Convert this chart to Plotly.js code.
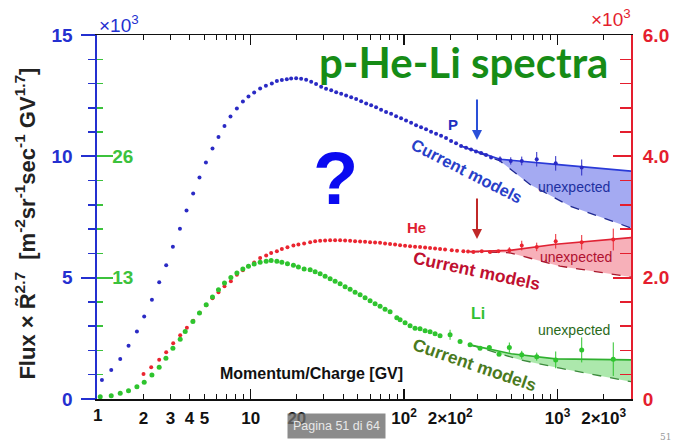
<!DOCTYPE html>
<html><head><meta charset="utf-8">
<script src="https://cdn.plot.ly/plotly-3.0.1.min.js"></script>
<style>html,body{margin:0;padding:0;background:#fff;}#chart{width:679px;height:443px;}</style>
</head><body><div id="chart"></div>
<script>
// ---- Proton (P) flux x R^2.7, units x10^3 (left axis)
const pR = [1.073,1.234,1.412,1.60,1.814,2.023,2.272,2.535,2.815,3.112,3.46,3.82,4.22,4.64,5.11,5.64,6.17,6.75,7.39,8.13,8.90,9.68,10.54,11.53,12.57,13.74,14.82,15.97,17.2,
  18.36,19.79,21.33,23.0,24.8,26.7,28.8,31.0,33.5,36.1,38.9,41.9,45.2,48.7,52.5,56.6,61.0,65.7,70.8,76.3,82.3,88.7,95.6,103.0,111.1,119.7,129.0,139.1,149.9,161.6,174.2,187.7,202.4,218.2,235.1,253.5,273.3,294.4,317.5,342.2,368.9];
const pFlux = [0.785,1.198,1.653,2.19,2.78,3.40,4.09,4.81,5.51,6.27,7.02,7.77,8.47,9.13,9.75,10.32,10.80,11.25,11.64,11.97,12.26,12.47,12.63,12.80,12.91,13.00,13.10,13.15,13.18,
  13.21,13.22,13.20,13.16,13.07,12.98,12.87,12.79,12.72,12.64,12.58,12.51,12.43,12.36,12.27,12.18,12.10,12.02,11.92,11.83,11.75,11.65,11.57,11.48,11.38,11.28,11.20,11.12,11.01,10.93,10.85,10.76,10.63,10.54,10.43,10.35,10.28,10.20,10.14,10.06,9.95];
const pTailR = [422.1,495.7,584.7,732,973,1438];
const pTail = [9.88,9.81,9.81,9.88,9.71,9.54];
const pTailErr = [0.12,0.15,0.18,0.3,0.3,0.33];
const pFitR = [235,422,973,3013];
const pFit = [10.43,9.88,9.67,9.39];
const pModelR = [235,422,662,1206,3013];
const pModel = [10.43,9.81,8.84,7.95,7.05];

// ---- Helium (He), units x10^3 (right axis)
const heR = [2.003,2.248,2.534,2.815,3.127,3.473,3.840,4.221,4.654,5.131,5.638,6.169,6.752,7.430,8.132,8.897,9.676,10.54,11.53,12.62,13.60,14.82,15.97,17.37,19.00,20.48,22.31,24.42,26.32,28.37,30.57,32.96,35.52,38.29,41.27,44.48,47.94,51.68,55.69,60.03,64.71,69.75,75.18,81.04,87.36,94.17,101.5,109.4,117.9,127.1,137.1,147.7,159.2,171.6,185.0,204.5,221.4,243.4,261.2,282.8,320.8,363.4,411.7];
const heFlux = [0.413,0.524,0.645,0.772,0.921,1.050,1.174,1.289,1.421,1.545,1.661,1.760,1.860,1.942,2.050,2.124,2.190,2.248,2.326,2.364,2.408,2.435,2.474,2.501,2.529,2.545,2.562,2.583,2.600,2.607,2.612,2.617,2.617,2.617,2.612,2.607,2.602,2.595,2.590,2.583,2.579,2.574,2.565,2.557,2.545,2.533,2.526,2.517,2.509,2.504,2.496,2.488,2.479,2.471,2.463,2.451,2.443,2.435,2.430,2.424,2.435,2.424,2.435];
const heTailR = [485.3,584.7,732.0,973.4,1438,2309];
const heTail = [2.451,2.529,2.507,2.600,2.583,2.628];
const heTailErr = [0.05,0.08,0.07,0.12,0.12,0.18];
const heFitR = [269,490,973,3013];
const heFit = [2.43,2.45,2.55,2.66];
const heModelR = [269,489,1038,3013];
const heModel = [2.43,2.41,2.19,2.01];

// ---- Lithium (Li), inner left axis (13, 26)
const liR = [1.046,1.234,1.412,1.599,1.814,2.024,2.272,2.534,2.803,3.113,3.473,3.744,4.202,4.638,5.131,5.638,6.169,6.752,7.430,8.132,8.897,9.676,10.54,11.53,12.62,13.60,14.82,15.97,17.37,19.00,20.48,22.31,24.42,26.32,28.37,30.57,32.96,35.52,38.29,41.27,44.48,47.94,51.68,55.69,60.03,64.71,69.75,75.18,81.04,89.65,94.17,101.5,109.4,117.9,127.1,137.1,147.7,159.2,171.6,231.7,269.2,312.7,359.5,415.9];
const liFlux = [0.247,0.355,0.612,0.892,1.321,1.794,2.578,3.406,4.373,5.447,6.414,7.230,8.305,9.207,10.10,10.93,11.71,12.43,13.03,13.50,13.93,14.21,14.47,14.64,14.75,14.83,14.75,14.64,14.50,14.32,14.15,13.93,13.86,13.64,13.43,13.16,12.89,12.62,12.35,12.03,11.76,11.44,11.17,10.85,10.53,10.21,9.94,9.62,9.35,8.70,8.49,8.17,7.84,7.57,7.52,7.31,7.20,6.98,6.77,6.16,5.80,5.45,5.51,4.80];
const liTailR = [199.4,485.3,584.7,732.0,973.4,1438,2309];
const liTail = [6.88,5.51,4.73,4.54,4.19,5.26,4.27];
const liTailErr = [0.54,0.54,0.43,0.43,0.9,1.34,1.8];
const liFitR = [269,500,973,3013];
const liFit = [5.80,4.85,4.30,4.19];
const liModelR = [269,575,1038,3013];
const liModel = [5.80,4.19,3.30,1.86];

// ---- axis ticks
const xTickVals = [1,2,3,4,5,6,7,8,9,10,20,30,40,50,60,70,80,90,100,200,300,400,500,600,700,800,900,1000,2000,3000];
const xTickText = ['1','2','3','4','5','','','','','10','20','','','','','','','','10<sup>2</sup>','2×10<sup>2</sup>','','','','','','','','10<sup>3</sup>','2×10<sup>3</sup>',''];
const xMajor = [1,10,100,1000];
const pTicks = [0,5,10,15];
const heTicks = [0,2,4,6];
const heTickText = ['0','2.0','4.0','6.0'];
const liTicks = [13,26];

const F = 'Liberation Sans, Arial, sans-serif';
const BLUE = '#2430d0', RED = '#e41e2e', GREEN = '#3cc23c';
const XR = [-0.0015,3.479];

function pts(x,y,yaxis,color,size,err){
  const t = {x:x,y:y,yaxis:yaxis,type:'scatter',mode:'markers',marker:{color:color,size:size},hoverinfo:'skip',showlegend:false,cliponaxis:false};
  if(err) t.error_y = {type:'data',array:err,visible:true,color:color,thickness:1,width:0};
  return t;
}
function line(x,y,yaxis,color,dash,fill,fillcolor,w){
  const t = {x:x,y:y,yaxis:yaxis,type:'scatter',mode:'lines',line:{color:color,width:w||1.3,dash:dash||'solid'},hoverinfo:'skip',showlegend:false};
  if(fill){t.fill=fill;t.fillcolor=fillcolor;}
  return t;
}

const data = [
  {x:[],y:[],xaxis:'x2',yaxis:'y',type:'scatter',mode:'markers',showlegend:false,hoverinfo:'skip'},
  line(pModelR,pModel,'y','#1e2890','dash'),
  line(pFitR,pFit,'y','#2a3ad8','solid','tonexty','rgba(90,100,232,0.55)',1.6),
  pts(pR,pFlux,'y','#2a2ac4',4),
  pts(pTailR,pTail,'y','#2a2ac4',4,pTailErr),
  line(heModelR,heModel,'y2','#a8182c','dash'),
  line(heFitR,heFit,'y2','#e02234','solid','tonexty','rgba(238,80,100,0.45)',1.6),
  pts(heR,heFlux,'y2','#ea2530',4),
  pts(heTailR,heTail,'y2','#ea2530',4,heTailErr),
  line(liModelR,liModel,'y3','#3c8a3c','dash'),
  line(liFitR,liFit,'y3','#30b030','solid','tonexty','rgba(70,205,70,0.45)',1.6),
  pts(liR,liFlux,'y3','#2ec42e',5),
  pts(liTailR,liTail,'y3','#2ec42e',5,liTailErr)
];

const ann = (x,y,text,size,color,opts)=>Object.assign({xref:'paper',yref:'paper',x:x,y:y,text:text,showarrow:false,
  font:{family:F,size:size,color:color},xanchor:'center',yanchor:'middle'},opts||{});

const layout = {
  width:679,height:443,
  margin:{l:97,r:48,t:35,b:44},
  paper_bgcolor:'#fff',plot_bgcolor:'#fff',
  showlegend:false,
  xaxis:{type:'log',range:XR,tickmode:'array',tickvals:xTickVals,ticktext:xTickText,
    ticks:'inside',ticklen:5,tickwidth:1,tickcolor:'#111',showline:true,linecolor:'#111',linewidth:1.5,
    mirror:'ticks',showgrid:false,zeroline:false,tickangle:0,ticklabelstandoff:3,
    tickfont:{family:F,size:17,color:'#111',weight:'bold'}},
  xaxis2:{type:'log',range:XR,overlaying:'x',side:'bottom',anchor:'y',tickmode:'array',tickvals:xMajor,
    ticks:'inside',ticklen:10,tickwidth:1.5,tickcolor:'#111',showticklabels:false,showline:true,linecolor:'#111',linewidth:1.5,
    mirror:'ticks',showgrid:false,zeroline:false},
  yaxis:{range:[0,15],tickmode:'array',tickvals:pTicks,ticks:'outside',ticklen:14,tickwidth:2,tickcolor:BLUE,
    minor:{ticks:'outside',ticklen:7,tickwidth:1.5,tickcolor:BLUE,tickmode:'linear',tick0:0,dtick:1},
    showline:true,linecolor:BLUE,linewidth:2.5,showgrid:false,zeroline:false,ticklabelstandoff:4,
    tickfont:{family:F,size:19,color:BLUE,weight:'bold'}},
  yaxis2:{range:[0,6],overlaying:'y',side:'right',anchor:'x',tickmode:'array',tickvals:heTicks,ticktext:heTickText,
    ticks:'inside',ticklen:18,tickwidth:2,tickcolor:RED,
    minor:{ticks:'inside',ticklen:11,tickwidth:1.5,tickcolor:RED,tickmode:'linear',tick0:0,dtick:0.4},
    showline:true,linecolor:RED,linewidth:2,showgrid:false,zeroline:false,ticklabelstandoff:6,
    tickfont:{family:F,size:19,color:RED,weight:'bold'}},
  yaxis3:{range:[0,39],overlaying:'y',side:'left',anchor:'x',tickmode:'array',tickvals:liTicks,
    ticks:'inside',ticklen:16,tickwidth:2,tickcolor:GREEN,ticklabelposition:'inside',
    minor:{ticks:'inside',ticklen:6,tickwidth:1.5,tickcolor:GREEN,tickmode:'linear',tick0:0,dtick:2.6},
    showline:false,showgrid:false,zeroline:false,
    tickfont:{family:F,size:19,color:GREEN,weight:'bold'}},
  annotations:[
    ann(0.687,0.927,'<b>p-He-Li spectra</b>',42,'#168c16',{font:{family:'Lato, Open Sans, sans-serif',size:42,color:'#168c16'}}),
    ann(0.4457,0.607,'<b>?</b>',74,'#0a0af0'),
    ann(0.6667,0.753,'<b>P</b>',15,'#2030c0'),
    {xref:'paper',yref:'paper',x:0.7116,y:0.7115,ax:0,ay:-42,text:'',showarrow:true,arrowhead:2,arrowsize:1,arrowwidth:2,arrowcolor:'#2a50d8'},
    ann(0.599,0.4725,'<b>He</b>',15,'#e02030'),
    {xref:'paper',yref:'paper',x:0.7116,y:0.4396,ax:0,ay:-42,text:'',showarrow:true,arrowhead:2,arrowsize:1,arrowwidth:2,arrowcolor:'#c02828'},
    ann(0.7135,0.236,'<b>Li</b>',16,'#30c030'),
    ann(0.693,0.627,'<b>Current models</b>',16.5,'#2840c8',{textangle:27}),
    ann(0.7116,0.3516,'<b>Current models</b>',17.5,'#c01030',{textangle:12}),
    ann(0.708,0.0934,'<b>Current models</b>',17.5,'#4a7a20',{textangle:19}),
    ann(0.893,0.582,'unexpected',14,'#2030a0'),
    ann(0.897,0.390,'unexpected',14,'#b01030'),
    ann(0.893,0.1896,'unexpected',14,'#2a6a1a'),
    ann(0.4026,0.0687,'<b>Momentum/Charge [GV]</b>',16,'#111'),
    ann(0.0,-0.045,'<b>1</b>',17,'#111'),
    ann(0.042,1.030,'×10<sup>3</sup>',19,BLUE),
    ann(0.962,1.047,'×10<sup>3</sup>',19,RED),
    ann(-0.1348,0.482,'<b>Flux × R̃<sup>2.7</sup>  [m<sup>-2</sup>sr<sup>-1</sup>sec<sup>-1</sup> GV<sup>1.7</sup>]</b>',22,'#222',{textangle:-90}),
    ann(0.449,-0.0742,'Pagina 51 di 64',12.5,'#e8e8e8',{bgcolor:'rgba(110,110,110,0.8)',borderpad:5}),
    ann(1.064,-0.104,'51',9,'#999',{font:{family:'DejaVu Serif, serif',size:9,color:'#999'}})
  ]
};
Plotly.newPlot('chart',data,layout,{displayModeBar:false,staticPlot:true});
</script></body></html>
